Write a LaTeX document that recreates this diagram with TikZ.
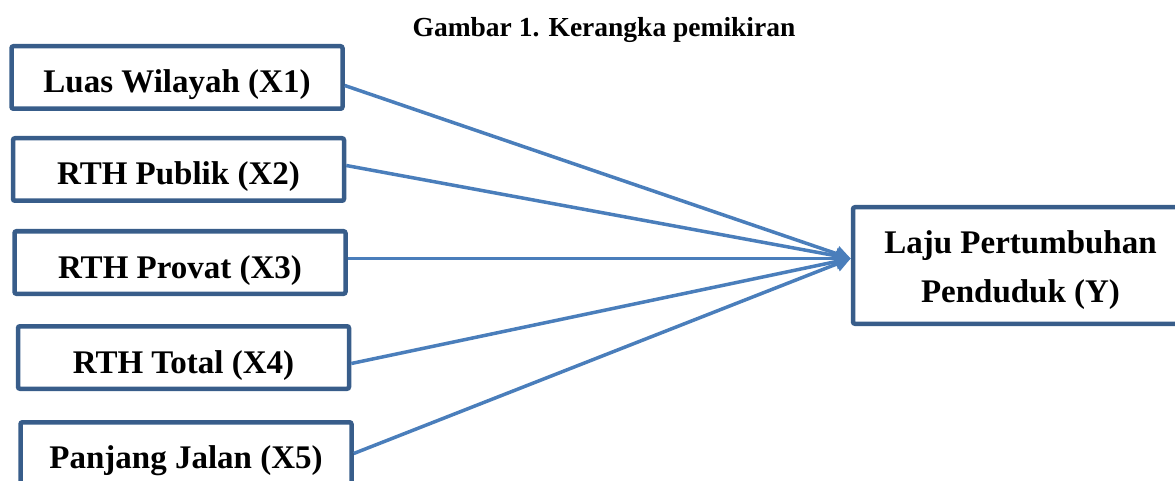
\documentclass[tikz,border=0pt]{standalone}
\usepackage{fontspec}
\setmainfont{Liberation Serif}
\usepackage{tikz}
\usetikzlibrary{arrows.meta, positioning}
\usepackage{xcolor}
\definecolor{kotak}{HTML}{385D8A}
\definecolor{panah}{HTML}{4A7EBB}

\begin{document}
\begin{tikzpicture}[
    x=1pt, y=-1pt,
    every node/.style={font=\bfseries\fontsize{33}{49}\selectfont},
    variabel/.style={
        rectangle,
        rounded corners=2pt,
        draw=kotak,
        line width=4.5pt,
        align=center,
        minimum width=331pt,
        minimum height=62.5pt,
        inner sep=0pt,
        text height=31pt,
        text depth=0pt
    },
    arrow/.style={
        -{Triangle[length=15pt,width=15pt]},
        draw=panah,
        line width=3.5pt
    }
]
\useasboundingbox (0,0) rectangle (1175,481);
\clip (0,0) rectangle (1175,481);

\node[anchor=base, font=\bfseries\fontsize{27.5}{32}\selectfont] (judul) at (604,37) {Gambar 1. Kerangka pemikiran};

\node[variabel] (luas) at (177,77.5) {Luas Wilayah (X1)};
\node[variabel] (publik) at (178.5,169.5) {RTH Publik (X2)};
\node[variabel] (privat) at (180,262.5) {RTH Provat (X3)};
\node[variabel] (total) at (183.5,357.5) {RTH Total (X4)};
\node[variabel, text height=29pt] (jalan) at (186,453.5) {Panjang Jalan (X5)};
\node[variabel, minimum width=335pt, minimum height=116.5pt,
      text height=73pt, text depth=0pt] (laju) at (1020.5,265.5) {Laju Pertumbuhan\\Penduduk (Y)};

\draw[arrow] ([yshift=-8pt]luas.east) -- ([yshift=7pt]laju.west);
\draw[arrow] ([yshift=4pt]publik.east) -- ([yshift=7pt]laju.west);
\draw[arrow] ([yshift=4pt]privat.east) -- ([yshift=7pt]laju.west);
\draw[arrow] ([yshift=-6pt]total.east) -- ([yshift=7pt]laju.west);
\draw[arrow] (jalan.east) -- ([yshift=7pt]laju.west);

\end{tikzpicture}
\end{document}
